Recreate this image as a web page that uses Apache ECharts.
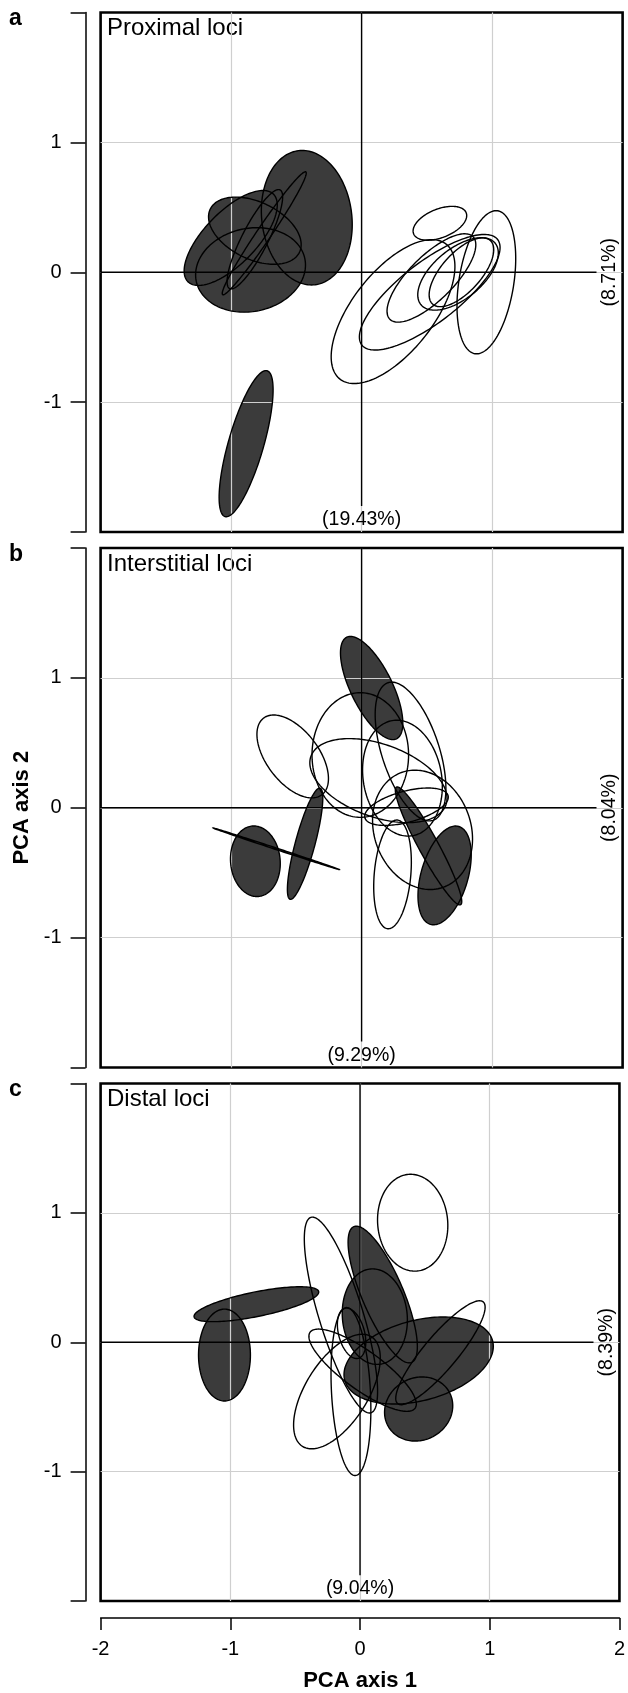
<!DOCTYPE html>
<html><head><meta charset="utf-8">
<script src="https://cdn.jsdelivr.net/npm/echarts@6/dist/echarts.min.js"></script>
<style>html,body{margin:0;padding:0;background:#fff}#c{width:628px;height:1693px}</style>
</head><body><div id="c"></div>
<script>
const panelLetters = ['a', 'b', 'c'];
const panelTitles = ['Proximal loci', 'Interstitial loci', 'Distal loci'];
const axis1Pct = ['(19.43%)', '(9.29%)', '(9.04%)'];
const axis2Pct = ['(8.71%)', '(8.04%)', '(8.39%)'];
const axisMin = -2, axisMax = 2, axisStep = 1;
const crossH = [[-2, 0], [1.8, 0]];
const crossV = [[0, 2], [0, -1.8]];
const pctXPos = [0, -1.905];
const pctYPos = [1.9, 0];

// ellipses: [centre x, centre y, semi-major, semi-minor, angle (deg)]
const proximalFilled = [
  [-0.42, 0.42, 0.52, 0.345, 97],
  [-0.818, 0.32, 0.38, 0.22, -26],
  [-0.746, 0.30, 0.57, 0.055, 56],
  [-0.818, 0.254, 0.426, 0.10, 63],
  [-0.851, 0.018, 0.425, 0.32, 12],
  [-1.003, 0.264, 0.47, 0.20, 46],
  [-0.885, -1.32, 0.584, 0.135, 74]
];
const proximalOpen = [
  [0.241, -0.303, 0.66, 0.31, 52],
  [0.522, -0.154, 0.66, 0.23, 38],
  [0.535, -0.044, 0.45, 0.17, 45],
  [0.60, 0.377, 0.217, 0.11, 22],
  [0.956, -0.077, 0.557, 0.21, 81],
  [0.739, -0.013, 0.37, 0.19, 40],
  [0.765, 0.0, 0.33, 0.15, 48]
];
const interstitialFilled = [
  [0.077, 0.922, 0.435, 0.16, -64],
  [-0.814, -0.412, 0.272, 0.19, 95],
  [-0.433, -0.277, 0.443, 0.075, 75],
  [-0.654, -0.316, 0.51, 0.006, -18.3],
  [0.513, -0.294, 0.515, 0.075, -61.5],
  [0.636, -0.521, 0.392, 0.18, 74]
];
const interstitialOpen = [
  [-0.528, 0.395, 0.37, 0.20, -53],
  [-0.01, 0.406, 0.48, 0.37, 90],
  [0.129, 0.209, 0.55, 0.28, -20],
  [0.375, 0.433, 0.557, 0.22, 108],
  [0.313, 0.228, 0.45, 0.30, 100],
  [0.467, -0.17, 0.47, 0.37, 110],
  [0.237, -0.513, 0.42, 0.14, 85],
  [0.344, 0.008, 0.33, 0.12, 15]
];
const distalFilled = [
  [-0.799, 0.294, 0.49, 0.095, 11.5],
  [-1.045, -0.099, 0.355, 0.20, 90],
  [0.175, 0.369, 0.57, 0.16, -67],
  [0.114, 0.198, 0.37, 0.25, 95],
  [0.452, -0.141, 0.59, 0.31, 15],
  [0.452, -0.516, 0.27, 0.24, 30]
];
const distalOpen = [
  [0.406, 0.924, 0.375, 0.27, 95],
  [-0.147, 0.21, 0.79, 0.17, -73],
  [-0.065, 0.069, 0.20, 0.10, -75],
  [-0.178, -0.381, 0.50, 0.24, 58],
  [-0.07, -0.381, 0.65, 0.15, 93],
  [0.02, -0.216, 0.50, 0.15, -36],
  [0.62, -0.081, 0.513, 0.13, 50]
];
const filledSets = [proximalFilled, interstitialFilled, distalFilled];
const openSets = [proximalOpen, interstitialOpen, distalOpen];

const FONT = '"Liberation Sans", Arial, Helvetica, sans-serif';
const gridTops = [12.5, 548, 1083.5];
const gridLeft = 100.6, gridW = 522, gridH = 519.5;

function ellipseRenderer(filled) {
  return function (params, api) {
    const cx = api.value(0), cy = api.value(1), a = api.value(2), b = api.value(3);
    const ang = api.value(4) * Math.PI / 180;
    const pts = [];
    const n = 160;
    for (let i = 0; i < n; i++) {
      const t = i / n * 2 * Math.PI;
      const x = cx + a * Math.cos(t) * Math.cos(ang) - b * Math.sin(t) * Math.sin(ang);
      const y = cy + a * Math.cos(t) * Math.sin(ang) + b * Math.sin(t) * Math.cos(ang);
      pts.push(api.coord([x, y]));
    }
    return {
      type: 'polygon',
      shape: { points: pts },
      style: filled ? { fill: '#3b3b3b', stroke: null } : { fill: null, stroke: '#000', lineWidth: 1.4 }
    };
  };
}

function textRenderer(txt, rot) {
  return function (params, api) {
    const p = api.coord([api.value(0), api.value(1)]);
    return {
      type: 'text', x: p[0], y: p[1], rotation: rot,
      style: { text: txt, font: '19.5px ' + FONT, fill: '#000', align: 'center', verticalAlign: 'middle' }
    };
  };
}

const grids = [], xAxes = [], yAxes = [], series = [], graphics = [];
for (let i = 0; i < 3; i++) {
  grids.push({ left: gridLeft, top: gridTops[i], width: gridW, height: gridH, show: true,
    borderColor: '#000', borderWidth: 2.6, backgroundColor: 'transparent' });
  const isBottom = i === 2;
  const split = { show: true, showMinLine: false, showMaxLine: false, lineStyle: { color: '#cfcfcf', width: 1.2 } };
  xAxes.push({
    type: 'value', gridIndex: i, min: axisMin, max: axisMax, interval: axisStep,
    offset: isBottom ? 17 : 0,
    axisLine: { show: isBottom, onZero: false, lineStyle: { color: '#000', width: 1.5 } },
    axisTick: { show: isBottom, length: 12, lineStyle: { color: '#000', width: 1.5 } },
    axisLabel: { show: isBottom, fontSize: 20, color: '#000', margin: 21, fontFamily: FONT },
    splitLine: split,
    name: isBottom ? 'PCA axis 1' : '', nameLocation: 'middle', nameGap: 52,
    nameTextStyle: { fontSize: 22, fontWeight: 'bold', color: '#000', fontFamily: FONT }
  });
  yAxes.push({
    type: 'value', gridIndex: i, min: axisMin, max: axisMax, interval: axisStep,
    position: 'left', offset: 15,
    axisLine: { show: true, onZero: false, lineStyle: { color: '#000', width: 1.5 } },
    axisTick: { show: true, length: 15, lineStyle: { color: '#000', width: 1.5 } },
    axisLabel: { show: true, fontSize: 20, color: '#000', margin: 24, fontFamily: FONT,
      formatter: v => (v === axisMin || v === axisMax) ? '' : String(v) },
    splitLine: split,
    name: i === 1 ? 'PCA axis 2' : '', nameLocation: 'middle', nameGap: 52,
    nameTextStyle: { fontSize: 22, fontWeight: 'bold', color: '#000', fontFamily: FONT }
  });
  series.push({
    type: 'custom', xAxisIndex: i, yAxisIndex: i, z: -1, clip: false, silent: true,
    renderItem: ellipseRenderer(true), data: filledSets[i], encode: { x: 0, y: 1 }
  });
  series.push({ type: 'line', xAxisIndex: i, yAxisIndex: i, z: 2, symbol: 'none', silent: true,
    data: crossH, lineStyle: { color: '#000', width: 1.4 } });
  series.push({ type: 'line', xAxisIndex: i, yAxisIndex: i, z: 2, symbol: 'none', silent: true,
    data: crossV, lineStyle: { color: '#000', width: 1.4 } });
  series.push({
    type: 'custom', xAxisIndex: i, yAxisIndex: i, z: 3, clip: false, silent: true,
    renderItem: ellipseRenderer(false), data: filledSets[i].concat(openSets[i]), encode: { x: 0, y: 1 }
  });
  series.push({ type: 'custom', xAxisIndex: i, yAxisIndex: i, z: 4, clip: false, silent: true,
    renderItem: textRenderer(axis1Pct[i], 0), data: [pctXPos], encode: { x: 0, y: 1 } });
  series.push({ type: 'custom', xAxisIndex: i, yAxisIndex: i, z: 4, clip: false, silent: true,
    renderItem: textRenderer(axis2Pct[i], Math.PI / 2), data: [pctYPos], encode: { x: 0, y: 1 } });
  graphics.push({ type: 'text', left: 9, top: gridTops[i] - 5,
    style: { text: panelLetters[i], font: 'bold 23px ' + FONT, fill: '#000' } });
  graphics.push({ type: 'text', left: 107, top: gridTops[i] + 4,
    style: { text: panelTitles[i], font: '24px ' + FONT, fill: '#000' } });
}

const chart = echarts.init(document.getElementById('c'), null, { renderer: 'canvas' });
chart.setOption({
  backgroundColor: '#fff',
  animation: false,
  grid: grids, xAxis: xAxes, yAxis: yAxes, series: series, graphic: graphics
});
</script>
</body></html>
